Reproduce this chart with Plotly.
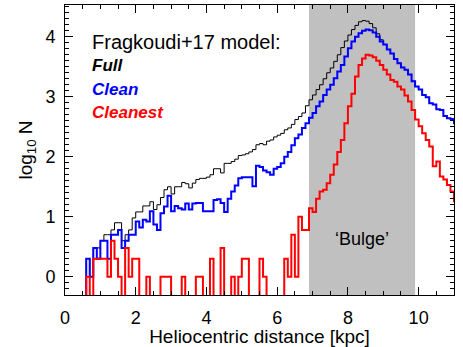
import plotly.graph_objects as go

# Histogram bins: left edges from 0.6 kpc, width 0.1 kpc (last bin is the partially visible one at 11.0)
bin_start = 0.6
bin_width = 0.1

# log10 N per bin; None = empty bin (N = 0)
full = [0.30, 0.0, 0.48, 0.48, 0.60, 0.70, 0.70, 0.78, 0.90, 0.90,
        0.60, 0.70, 0.78, 0.98, 1.08, 1.08, 1.18, 1.18, 1.25, 1.12,
        1.20, 1.32, 1.45, 1.50, 1.38, 1.50, 1.50, 1.57, 1.55, 1.48,
        1.56, 1.62, 1.64, 1.64, 1.66, 1.70, 1.80, 1.80, 1.73, 1.89,
        1.89, 1.92, 1.96, 2.02, 2.03, 2.05, 2.08, 2.12, 2.20, 2.22,
        2.20, 2.26, 2.28, 2.33, 2.36, 2.39, 2.45, 2.48, 2.54, 2.62,
        2.67, 2.73, 2.85, 2.95, 3.03, 3.12, 3.20, 3.30, 3.40, 3.48,
        3.59, 3.70, 3.82, 3.93, 4.03, 4.12, 4.19, 4.25, 4.27, 4.26,
        4.22, 4.15, 4.05, 3.95, 3.87, 3.79, 3.72, 3.63, 3.56, 3.49,
        3.45, 3.37, 3.26, 3.17, 3.12, 3.03, 2.99, 2.89, 2.87, 2.79,
        2.78, 2.68, 2.64, 2.63, 2.56]

clean = [0.30, 0.0, 0.48, 0.30, 0.60, 0.60, 0.30, 0.70, 0.70, 0.78,
         0.48, 0.60, 0.70, 0.70, 0.92, 0.82, 0.95, 0.92, 1.09, 0.87,
         0.78, 1.06, 1.17, 1.35, 1.09, 1.18, 1.14, 1.12, 1.22, 1.12,
         1.22, 1.23, 1.23, 1.09, 1.09, 1.09, 1.28, 1.29, 1.23, 1.08,
         1.30, 1.42, 1.52, 1.64, 1.66, 1.66, 1.66, 1.51, 1.85, 1.83,
         1.77, 1.74, 1.70, 1.80, 1.83, 1.89, 2.00, 2.08, 2.19, 2.31,
         2.37, 2.48, 2.56, 2.65, 2.73, 2.84, 2.92, 3.03, 3.12, 3.20,
         3.31, 3.42, 3.53, 3.67, 3.81, 3.92, 4.00, 4.06, 4.10, 4.12,
         4.11, 4.07, 4.00, 3.92, 3.87, 3.79, 3.72, 3.63, 3.56, 3.49,
         3.45, 3.37, 3.26, 3.17, 3.12, 3.03, 2.99, 2.89, 2.87, 2.79,
         2.78, 2.68, 2.64, 2.63, 2.56]

cleanest = [0.0, None, 0.30, 0.30, 0.30, 0.30, 0.0, 0.60, 0.30, 0.0,
            None, 0.48, 0.0, 0.30, 0.30, None, None, 0.0, None, None,
            None, 0.0, 0.0, 0.0, None, None, None, 0.0, None, None,
            None, 0.0, 0.0, None, None, 0.30, None, None, 0.48, None,
            None, 0.0, None, 0.0, 0.30, 0.30, None, None, None, 0.30,
            0.0, None, None, None, None, None, 0.30, 0.0, 0.70, 0.0,
            1.00, 0.78, 0.78, 1.14, 1.08, 1.30, 1.42, 1.45, 1.56, 1.70,
            1.87, 2.08, 2.28, 2.56, 2.84, 3.05, 3.34, 3.53, 3.64, 3.70,
            3.69, 3.66, 3.60, 3.53, 3.45, 3.37, 3.28, 3.25, 3.17, 3.12,
            3.02, 2.92, 2.78, 2.62, 2.51, 2.39, 2.28, 2.17, 1.84, 1.92,
            1.67, 1.62, 1.53, 1.42, 1.26]

bulge_range = [6.9, 9.9]

legend_title = "Fragkoudi+17 model:"
series_names = ["Full", "Clean", "Cleanest"]

FLOOR = -2.0  # empty bins drawn below the axis (clipped)
FONT = "Liberation Sans, Arial, Helvetica, sans-serif"


def step_xy(vals):
    edges = [round(bin_start + bin_width * i, 3) for i in range(len(vals))]
    xs = [edges[0]] + edges + [edges[-1] + bin_width]
    ys = [FLOOR] + [v if v is not None else FLOOR for v in vals] + [vals[-1] if vals[-1] is not None else FLOOR]
    return xs, ys


fig = go.Figure()

for vals, color, width in [(full, "black", 1), (clean, "#0000ff", 2), (cleanest, "#ff0000", 2)]:
    xs, ys = step_xy(vals)
    fig.add_trace(go.Scatter(x=xs, y=ys, mode="lines", line=dict(color=color, width=width, shape="hv"),
                             showlegend=False, hoverinfo="skip"))

fig.add_shape(type="rect", xref="x", yref="paper", x0=bulge_range[0], x1=bulge_range[1], y0=0, y1=1,
              fillcolor="#c0c0c0", line=dict(width=0), layer="below")

fig.add_annotation(x=8.39, y=0.63, text="\u2018Bulge\u2019", showarrow=False,
                   font=dict(family=FONT, size=18, color="black"))

fig.add_annotation(x=0.70, y=3.92, text=legend_title, showarrow=False, xanchor="left", yanchor="middle",
                   font=dict(family=FONT, size=20, color="black"))
for name, color, yv in zip(series_names, ["black", "#0000ff", "#ff0000"], [3.52, 3.12, 2.73]):
    fig.add_annotation(x=0.70, y=yv, text=f"<b><i>{name}</i></b>", showarrow=False, xanchor="left",
                       yanchor="middle", font=dict(family=FONT, size=17, color=color))

axis_common = dict(showline=True, linecolor="black", linewidth=1, mirror="allticks", ticks="inside",
                   tickcolor="black", tickwidth=1, showgrid=False, zeroline=False, automargin=False,
                   tickfont=dict(family=FONT, size=18, color="black"))

fig.update_xaxes(range=[0, 11], dtick=2, tick0=0, ticklen=8, ticklabelstandoff=6,
                 minor=dict(dtick=0.5, ticks="inside", ticklen=4, tickcolor="black", showgrid=False),
                 title=dict(text="Heliocentric distance [kpc]", font=dict(family=FONT, size=19, color="black"),
                            standoff=2),
                 **axis_common)
fig.update_yaxes(range=[-0.305, 4.53], dtick=1, tick0=0, ticklen=8, ticklabelstandoff=5,
                 minor=dict(dtick=0.1, ticks="inside", ticklen=4, tickcolor="black", showgrid=False),
                 title=dict(text="log<sub>10</sub> N", font=dict(family=FONT, size=19, color="black"),
                            standoff=7),
                 **axis_common)

fig.update_layout(width=463, height=347, margin=dict(l=65, r=9, t=5, b=52),
                  plot_bgcolor="white", paper_bgcolor="white")

fig.write_html("out.html", config={"displayModeBar": False},
               post_script="document.body.style.margin='0px';document.body.style.overflow='hidden';")
